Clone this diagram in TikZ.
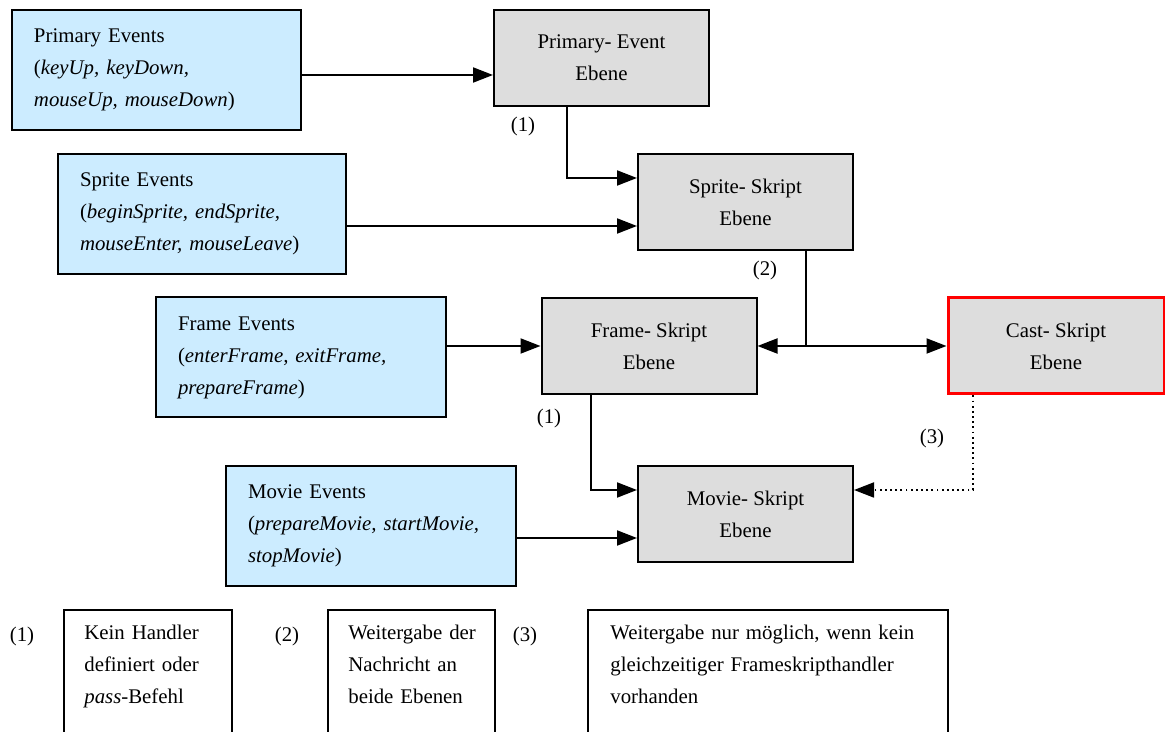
\documentclass[tikz,border=0pt]{standalone}
\usepackage{fontspec}
\setmainfont{Liberation Serif}
\usetikzlibrary{arrows.meta,calc}
\definecolor{evblue}{HTML}{CCECFF}
\definecolor{lvgray}{HTML}{DDDDDD}
\definecolor{castred}{HTML}{FF0000}
\def\u{0.6pt}
\tikzset{
  base/.style={draw=black, line width=1.2pt, rectangle, inner sep=0pt,
    font=\fontsize{12.5}{19.2}\selectfont},
  eventbox/.style={base, fill=evblue, align=left, minimum height=120*\u},
  levelbox/.style={base, fill=lvgray, align=center, minimum width=215*\u, minimum height=96*\u},
  castbox/.style={levelbox, draw=castred, line width=1.8pt},
  note/.style={inner sep=0pt, align=left, font=\fontsize{12.5}{19.2}\selectfont},
  tag/.style={inner sep=0pt, font=\fontsize{12.5}{15}\selectfont},
  flow/.style={line width=1.2pt, -{Triangle[length=12pt,width=9pt]}},
  dotflow/.style={line width=1.1pt, dotted, -{Triangle[length=12pt,width=9pt]}},
  plain/.style={line width=1.2pt}
}
\begin{document}
\begin{tikzpicture}[x=0.6pt,y=-0.6pt]
\useasboundingbox (0,0) rectangle (1165,732);

% event sources (left column, blue)
\node[eventbox, minimum width=289*\u, text width=245*\u] (pe) at (156.5,70)
  {Primary Events\\(\textit{keyUp, keyDown,}\\\textit{mouseUp, mouseDown})};
\node[eventbox, minimum width=288*\u, text width=244*\u] (se) at (202,214)
  {Sprite Events\\(\textit{beginSprite, endSprite,}\\\textit{mouseEnter, mouseLeave})};
\node[eventbox, minimum width=290*\u, text width=246*\u] (fe) at (301,357.5)
  {Frame Events\\(\textit{enterFrame, exitFrame,}\\\textit{prepareFrame})};
\node[eventbox, minimum width=290*\u, text width=246*\u] (me) at (371,526)
  {Movie Events\\(\textit{prepareMovie, startMovie,}\\\textit{stopMovie})};

% script levels (grey)
\node[levelbox] (pl) at (601.5,58) {Primary- Event\\Ebene};
\node[levelbox] (sl) at (745.5,202) {Sprite- Skript\\Ebene};
\node[levelbox] (fl) at (649,346) {Frame- Skript\\Ebene};
\node[castbox, minimum width=216*\u] (cl) at (1056,346) {Cast- Skript\\Ebene};
\node[levelbox] (ml) at (745.5,514) {Movie- Skript\\Ebene};

% start points of the event inputs
\coordinate (peout) at ($(pe.east)+(0,5)$);
\coordinate (seout) at ($(se.east)+(0,12)$);
\coordinate (meout) at ($(me.east)+(0,12)$);

% junction points of the routed connectors
\coordinate (pbend) at (567,178);
\coordinate (split) at (806,346);
\coordinate (fbend) at (591,490);
\coordinate (cbend) at (973,490);

% event inputs
\draw[flow] (peout) -- (peout -| pl.west);
\draw[flow] (seout) -- (seout -| sl.west);
\draw[flow] (fe.east |- fl.west) -- (fl.west);
\draw[flow] (meout) -- (meout -| ml.west);

% passing messages between levels
\draw[flow] (pl.south -| pbend) -- (pbend) -- (pbend -| sl.west);
\draw[plain] (sl.south -| split) -- (split);
\draw[flow] (split) -- (fl.east);
\draw[flow] (split) -- (cl.west);
\draw[flow] (fl.south -| fbend) -- (fbend) -- (fbend -| ml.west);
\draw[dotflow] (cl.south -| cbend) -- (cbend) -- (cbend -| ml.east);

% connector tags
\node[tag] (t1) at (523,126) {(1)};
\node[tag] (t2) at (765,270) {(2)};
\node[tag] (t3) at (932,438) {(3)};
\node[tag] (t4) at (549,418) {(1)};

% legend
\node[tag] (k1) at (22,636) {(1)};
\node[tag] (k2) at (287,636) {(2)};
\node[tag] (k3) at (525,636) {(3)};
\node[note, text width=148*\u, anchor=north west] (n1) at (84,625)
  {Kein Handler\\definiert oder\\\textit{pass}-Befehl};
\node[note, text width=148*\u, anchor=north west] (n2) at (348,625)
  {Weitergabe der\\Nachricht an\\beide Ebenen};
\node[note, text width=330*\u, anchor=north west] (n3) at (610,625)
  {Weitergabe nur möglich, wenn kein\\gleichzeitiger Frameskripthandler\\vorhanden};
\draw[plain] (64,735) -- (64,610) -- (232,610) -- (232,735);
\draw[plain] (328,735) -- (328,610) -- (495,610) -- (495,735);
\draw[plain] (588,735) -- (588,610) -- (948,610) -- (948,735);
\end{tikzpicture}
\end{document}
